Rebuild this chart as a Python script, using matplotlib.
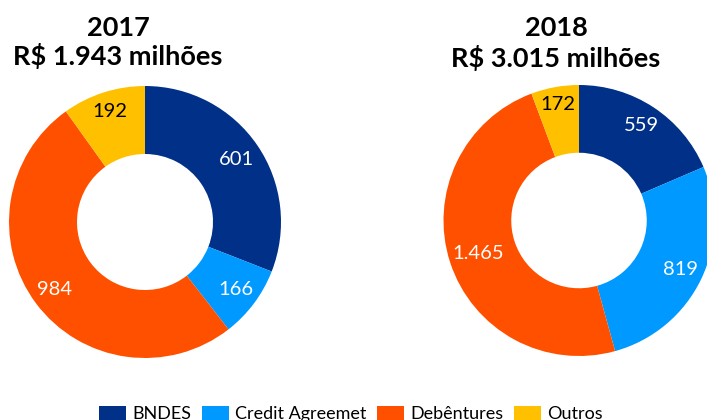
import matplotlib
matplotlib.use("Agg")
import matplotlib.pyplot as plt
from matplotlib.patches import Patch
import numpy as np

plt.rcParams['font.family'] = ['Lato', 'DejaVu Sans']

categories = ["BNDES", "Credit Agreemet", "Debêntures", "Outros"]
values_2017 = [601, 166, 984, 192]
values_2018 = [559, 819, 1465, 172]
labels_2017 = ["601", "166", "984", "192"]
labels_2018 = ["559", "819", "1.465", "172"]
years = ["2017", "2018"]
totals = ["R$ 1.943 milhões", "R$ 3.015 milhões"]
colors = ["#003087", "#0099FF", "#FF5000", "#FFC000"]
label_colors = ["white", "white", "white", "black"]

# per-label radial distance (label placement style)
label_r_2017 = [0.815, 0.83, 0.83, 0.85]
label_r_2018 = [0.84, 0.83, 0.78, 0.87]

W, H = 707, 420
fig = plt.figure(figsize=(W / 100, H / 100), dpi=100)

def add_donut(cx, cy, R, vals, labs, lrs):
    ax = fig.add_axes([(cx - R) / W, (H - cy - R) / H, 2 * R / W, 2 * R / H])
    wedges, _ = ax.pie(vals, colors=colors, startangle=90, counterclock=False,
                       radius=1, wedgeprops=dict(width=0.5, linewidth=0))
    ax.set_xlim(-1, 1)
    ax.set_ylim(-1, 1)
    ax.set_aspect('equal')
    ax.axis('off')
    for w, lab, r, col in zip(wedges, labs, lrs, label_colors):
        ang = np.deg2rad((w.theta1 + w.theta2) / 2)
        ax.text(r * np.cos(ang), r * np.sin(ang), lab, ha='center', va='center',
                fontsize=14.5, color=col, clip_on=False)

def add_title(cx, b1, b2, year, total):
    fig.text(cx / W, 1 - b1 / H, year, ha='center', va='baseline', fontsize=19.5,
             fontweight='bold')
    fig.text(cx / W, 1 - b2 / H, total, ha='center', va='baseline', fontsize=19.5,
             fontweight='bold')

add_donut(145, 222, 136, values_2017, labels_2017, label_r_2017)
add_donut(579, 220.5, 135.5, values_2018, labels_2018, label_r_2018)
add_title(118, 36, 65, years[0], totals[0])
add_title(556, 36, 67, years[1], totals[1])

handles = [Patch(facecolor=c, edgecolor='none') for c in colors]
fig.legend(handles, categories, loc='center', bbox_to_anchor=(351 / W, 1 - 414 / H),
           ncol=4, frameon=False, fontsize=13, handlelength=1.5, handleheight=0.8,
           columnspacing=0.6, handletextpad=0.33, borderaxespad=0, borderpad=0)

fig.savefig("out.png", dpi=100)
